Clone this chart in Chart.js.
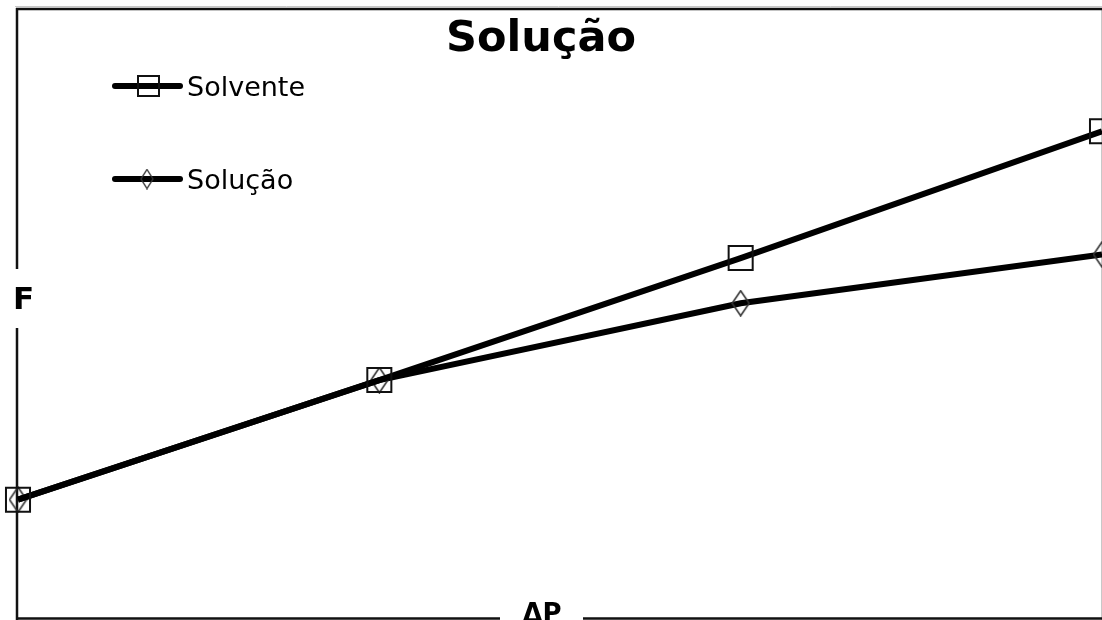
<!DOCTYPE html>
<html>
<head>
<meta charset="utf-8">
<script src="https://cdn.jsdelivr.net/npm/chart.js@4.4.1/dist/chart.umd.min.js"></script>
<style>
  html, body { margin: 0; padding: 0; background: #fff; overflow: hidden; }
  canvas { display: block; }
</style>
</head>
<body>
<canvas id="c" width="1102" height="620"></canvas>
<script>
// Flow F against pressure difference ΔP, pure solvent vs. solution
const chartTitle = 'Solução';
const xAxisTitle = 'ΔP';
const yAxisTitle = 'F';
const pressureSteps = ['1', '2', '3', '4'];
const solventeF = [0.97, 1.95, 2.95, 3.99];
const solucaoF = [0.97, 1.95, 2.58, 2.98];
const seriesNames = ['Solvente', 'Solução'];
const yMin = 0;
const yMax = 5;

// Tall thin diamond marker drawn on a small canvas
function makeDiamond(w, h, lw, color) {
  const c = document.createElement('canvas');
  c.width = w + 2;
  c.height = h + 2;
  const g = c.getContext('2d');
  g.strokeStyle = color;
  g.lineWidth = lw;
  g.beginPath();
  g.moveTo(c.width / 2, 1);
  g.lineTo(c.width - 1, c.height / 2);
  g.lineTo(c.width / 2, c.height - 1);
  g.lineTo(1, c.height / 2);
  g.closePath();
  g.stroke();
  return c;
}
const diamond = makeDiamond(17, 25, 1.6, '#333');

const FONT = '"DejaVu Sans", Verdana, sans-serif';

// Frame around the plot with gaps where the axis titles sit
const framePlugin = {
  id: 'frame',
  beforeDatasetsDraw(chart) {
    const ctx = chart.ctx;
    ctx.save();
    // faint outer edges
    ctx.strokeStyle = '#c8c8c8';
    ctx.lineWidth = 1;
    ctx.beginPath();
    ctx.moveTo(1101.5, 10);
    ctx.lineTo(1101.5, 620);
    ctx.moveTo(15, 6.5);
    ctx.lineTo(1102, 6.5);
    ctx.stroke();

    ctx.strokeStyle = '#111';
    ctx.lineWidth = 2.5;
    ctx.beginPath();
    // top
    ctx.moveTo(16, 9);
    ctx.lineTo(1102, 9);
    // left, broken around the F label
    ctx.moveTo(17, 8);
    ctx.lineTo(17, 269);
    ctx.moveTo(17, 328);
    ctx.lineTo(17, 620);
    // bottom, broken around the ΔP label
    ctx.moveTo(16, 618.5);
    ctx.lineTo(500, 618.5);
    ctx.moveTo(583, 618.5);
    ctx.lineTo(1102, 618.5);
    ctx.stroke();

    // axis titles
    ctx.fillStyle = '#000';
    ctx.textAlign = 'left';
    ctx.textBaseline = 'alphabetic';
    ctx.font = 'bold 31px ' + FONT;
    ctx.fillText(yAxisTitle, 13, 309);
    ctx.textAlign = 'center';
    ctx.font = 'bold 26px ' + FONT;
    ctx.fillText(xAxisTitle, 542, 622);
    ctx.restore();
  },
  afterDraw(chart) {
    const ctx = chart.ctx;
    ctx.save();
    // title
    ctx.fillStyle = '#000';
    ctx.textAlign = 'center';
    ctx.textBaseline = 'alphabetic';
    ctx.font = 'bold 43px ' + FONT;
    ctx.fillText(chartTitle, 541, 51);

    // legend
    const rows = [86, 179];
    chart.data.datasets.forEach((ds, i) => {
      const y = rows[i];
      ctx.strokeStyle = '#000';
      ctx.lineWidth = 6;
      ctx.lineCap = 'round';
      ctx.beginPath();
      ctx.moveTo(115, y);
      ctx.lineTo(180, y);
      ctx.stroke();
      ctx.lineCap = 'butt';
      if (i === 0) {
        ctx.lineWidth = 2;
        ctx.strokeStyle = '#111';
        ctx.strokeRect(138, y - 10, 21, 20);
      } else {
        ctx.drawImage(makeDiamond(12, 19, 1.4, '#333'), 147 - 7, y - 10.5);
      }
      ctx.fillStyle = '#000';
      ctx.textAlign = 'left';
      ctx.font = '27px ' + FONT;
      ctx.fillText(ds.label, 187, y + 10);
    });
    ctx.restore();
  }
};

new Chart(document.getElementById('c'), {
  type: 'line',
  data: {
    labels: pressureSteps,
    datasets: [
      {
        label: seriesNames[0],
        data: solventeF,
        borderColor: '#000',
        borderWidth: 6,
        pointStyle: 'rect',
        pointRadius: 17,
        pointBorderWidth: 2,
        pointBorderColor: '#111',
        pointBackgroundColor: 'rgba(0,0,0,0)',
        tension: 0,
        clip: false
      },
      {
        label: seriesNames[1],
        data: solucaoF,
        borderColor: '#000',
        borderWidth: 6,
        pointStyle: diamond,
        pointRadius: 12,
        tension: 0,
        clip: false
      }
    ]
  },
  options: {
    responsive: false,
    animation: false,
    devicePixelRatio: 1,
    layout: { autoPadding: false, padding: { left: 18, right: 0, top: 8, bottom: 2 } },
    plugins: {
      legend: { display: false },
      title: { display: false },
      tooltip: { enabled: false }
    },
    scales: {
      x: { type: 'category', display: false, offset: false },
      y: { type: 'linear', display: false, min: yMin, max: yMax }
    }
  },
  plugins: [framePlugin]
});
</script>
</body>
</html>
